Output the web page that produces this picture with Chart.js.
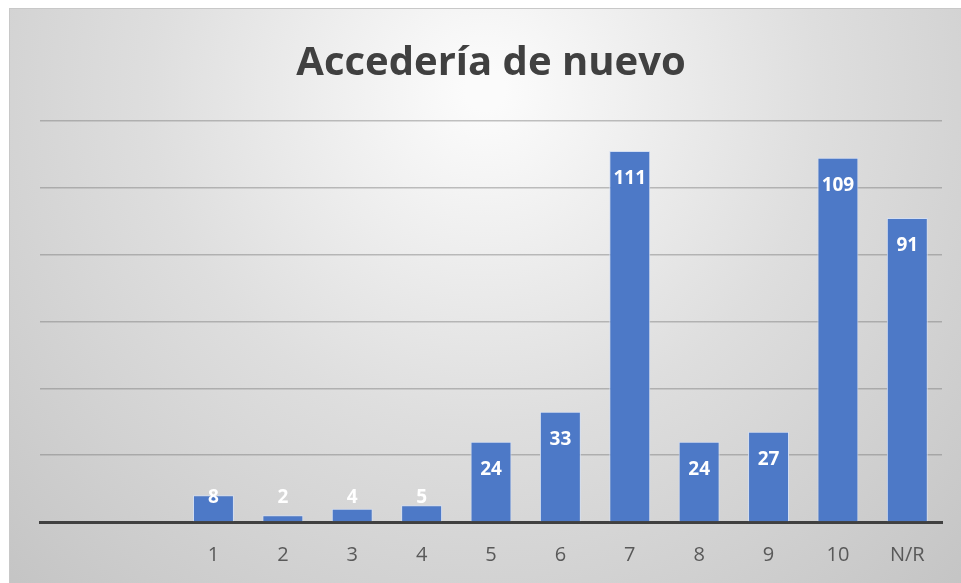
<!DOCTYPE html>
<html>
<head>
<meta charset="utf-8">
<script src="https://cdn.jsdelivr.net/npm/chart.js@4/dist/chart.umd.min.js"></script>
<style>
  html, body { margin: 0; padding: 0; background: #fff; }
  #wrap { width: 961px; height: 583px; }
</style>
</head>
<body>
<div id="wrap"><canvas id="grafico"></canvas></div>
<script>
// datos del grafico
var categorias = ["", "", "1", "2", "3", "4", "5", "6", "7", "8", "9", "10", "N/R"];
var respuestas = [null, null, 8, 2, 4, 5, 24, 33, 111, 24, 27, 109, 91];
var titulo = "Accedería de nuevo";

// fondo gris degradado tipo Excel
var fondo = {
  id: 'fondo',
  beforeDraw: function(chart) {
    var ctx = chart.ctx;
    ctx.save();
    ctx.fillStyle = '#ffffff';
    ctx.fillRect(0, 0, chart.width, chart.height);
    var g = ctx.createRadialGradient(485, 90, 20, 485, 90, 720);
    g.addColorStop(0, '#fbfbfb');
    g.addColorStop(0.45, '#dedede');
    g.addColorStop(1, '#c2c2c2');
    ctx.fillStyle = g;
    ctx.fillRect(9, 8, chart.width - 9, chart.height - 8);
    ctx.strokeStyle = '#c8c8c8';
    ctx.lineWidth = 1;
    ctx.strokeRect(9.5, 8.5, chart.width, chart.height);
    ctx.restore();
  }
};

// etiquetas blancas dentro de la barra
var etiquetas = {
  id: 'etiquetas',
  afterDatasetsDraw: function(chart) {
    var ctx = chart.ctx;
    var meta = chart.getDatasetMeta(0);
    ctx.save();
    ctx.fillStyle = '#ffffff';
    ctx.font = 'bold 19px "Open Sans"';
    ctx.textAlign = 'center';
    ctx.textBaseline = 'middle';
    meta.data.forEach(function(bar, i) {
      var v = respuestas[i];
      if (v == null) return;
      var y = Math.min(bar.y + 28, bar.base - 24);
      ctx.fillText(v, bar.x, y);
    });
    ctx.restore();
  }
};

new Chart(document.getElementById("grafico"), {
  type: 'bar',
  data: {
    labels: categorias,
    datasets: [{
      data: respuestas,
      backgroundColor: '#4d79c7',
      borderColor: '#d3def2',
      borderWidth: 1,
      categoryPercentage: 1,
      barPercentage: 0.59
    }]
  },
  options: {
    responsive: true,
    maintainAspectRatio: false,
    animation: false,
    layout: { padding: { left: 40, right: 19, top: 0, bottom: 0 } },
    plugins: {
      legend: { display: false },
      tooltip: { enabled: false },
      title: {
        display: true,
        text: titulo,
        color: '#404040',
        font: { family: 'Open Sans', size: 40, weight: 'bold' },
        padding: { top: 40, bottom: 33 }
      }
    },
    scales: {
      x: {
        grid: { display: false, drawTicks: false },
        border: { display: true, color: '#404040', width: 3 },
        ticks: { color: '#595959', font: { family: 'Open Sans', size: 20 }, padding: 21 },
        afterFit: function(scale) { scale.height = 61; }
      },
      y: {
        min: 0,
        max: 120,
        ticks: { display: false, stepSize: 20 },
        grid: { color: 'rgba(120,120,120,0.45)', lineWidth: 1.5, drawTicks: false },
        border: { display: false }
      }
    }
  },
  plugins: [fondo, etiquetas]
});
</script>
</body>
</html>
